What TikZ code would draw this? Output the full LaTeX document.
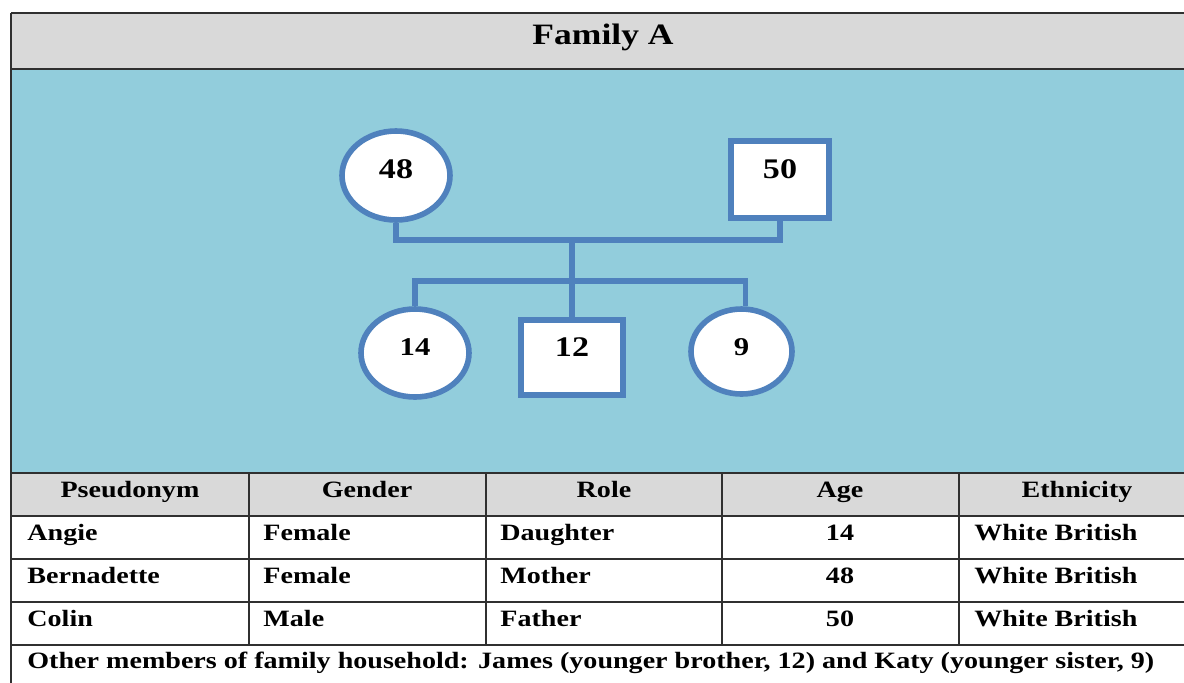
\documentclass[tikz,border=0pt]{standalone}
\usepackage{fontspec}
\setmainfont{Liberation Serif}[FakeStretch=1.2]
\usetikzlibrary{shapes.geometric}
\definecolor{famblue}{HTML}{92CDDC}
\definecolor{famgray}{HTML}{D9D9D9}
\definecolor{kinline}{HTML}{4F81BD}
\definecolor{rule}{HTML}{303030}
\tikzset{
  female/.style={ellipse, draw=kinline, line width=2.8pt, fill=white, inner sep=0pt},
  male/.style={rectangle, draw=kinline, line width=2.8pt, fill=white, inner sep=0pt},
  age/.style={font=\bfseries\fontsize{14.2}{16}\selectfont},
  kid/.style={font=\bfseries\fontsize{12.8}{15}\selectfont},
  cell/.style={font=\bfseries\fontsize{11.7}{13}\selectfont, inner sep=0pt},
  kin/.style={kinline, line width=2.8pt},
  grid/.style={rule, line width=0.9pt}
}
\begin{document}
\begin{tikzpicture}[x=0.5pt, y=-0.5pt]
    \useasboundingbox[fill=white] (0,0) rectangle (1184,682);

    % bands
    \path[fill=famgray] (11,13) rectangle (1200,69);
    \path[fill=famblue] (11,69) rectangle (1200,473);
    \path[fill=famgray] (11,473) rectangle (1200,516);
    \node[font=\bfseries\fontsize{14.8}{17}\selectfont, anchor=base] (title) at (603,44) {Family A};

    % parents
    \node[female, minimum width=54pt, minimum height=44.5pt, label={[age, yshift=3pt]center:48}] (mother) at (396,175.5) {};
    \node[male, minimum width=49pt, minimum height=38.5pt, label={[age, yshift=5pt]center:50}] (father) at (780,179.5) {};
    % children
    \node[female, minimum width=54pt, minimum height=44pt, label={[kid, yshift=3pt]center:14}] (angie) at (415,353) {};
    \node[male, minimum width=51pt, minimum height=37.5pt, label={[age, yshift=5pt]center:12}] (james) at (572,357.5) {};
    \node[female, minimum width=50.5pt, minimum height=42.5pt, label={[kid, yshift=2pt]center:9}] (katy) at (741.5,351.5) {};

    \coordinate (union) at (572,240);
    \coordinate (siblings) at (572,281);
    \draw[kin] (mother.south) |- (union) -| (father.south);
    \draw[kin] (union) -- (james.north);
    \draw[kin] (angie.north) |- (siblings) -| ([xshift=2pt]katy.north);

    % table rules
    \draw[grid] (11,13) -- (1200,13);
    \draw[grid] (11,69) -- (1200,69);
    \draw[grid] (11,13) -- (11,690);
    \foreach \y in {473,516,559,602,645}
      \draw[grid] (11,\y) -- (1200,\y);
    \foreach \x in {249,486,722,959}
      \draw[grid] (\x,473) -- (\x,645);

    % header
    \node[cell, anchor=base] (hpseud) at (130,497) {Pseudonym};
    \node[cell, anchor=base] (hgender) at (367,497) {Gender};
    \node[cell, anchor=base] (hrole) at (604,497) {Role};
    \node[cell, anchor=base] (hage) at (840,497) {Age};
    \node[cell, anchor=base] (hethnic) at (1077,497) {Ethnicity};

    % rows
    \foreach \who/\gender/\role/\years [count=\i] in {Angie/Female/Daughter/14, Bernadette/Female/Mother/48, Colin/Male/Father/50} {
      \node[cell, anchor=base west] (name\i) at (27,497+43*\i) {\who};
      \node[cell, anchor=base west] (gender\i) at (263,497+43*\i) {\gender};
      \node[cell, anchor=base west] (role\i) at (500,497+43*\i) {\role};
      \node[cell, anchor=base] (age\i) at (840,497+43*\i) {\years};
      \node[cell, anchor=base west] (ethnic\i) at (974,497+43*\i) {White British};
    }
    \node[cell, anchor=base west] (others) at (27,668) {Other members of family household: James (younger brother, 12) and Katy (younger sister, 9)};
\end{tikzpicture}
\end{document}
